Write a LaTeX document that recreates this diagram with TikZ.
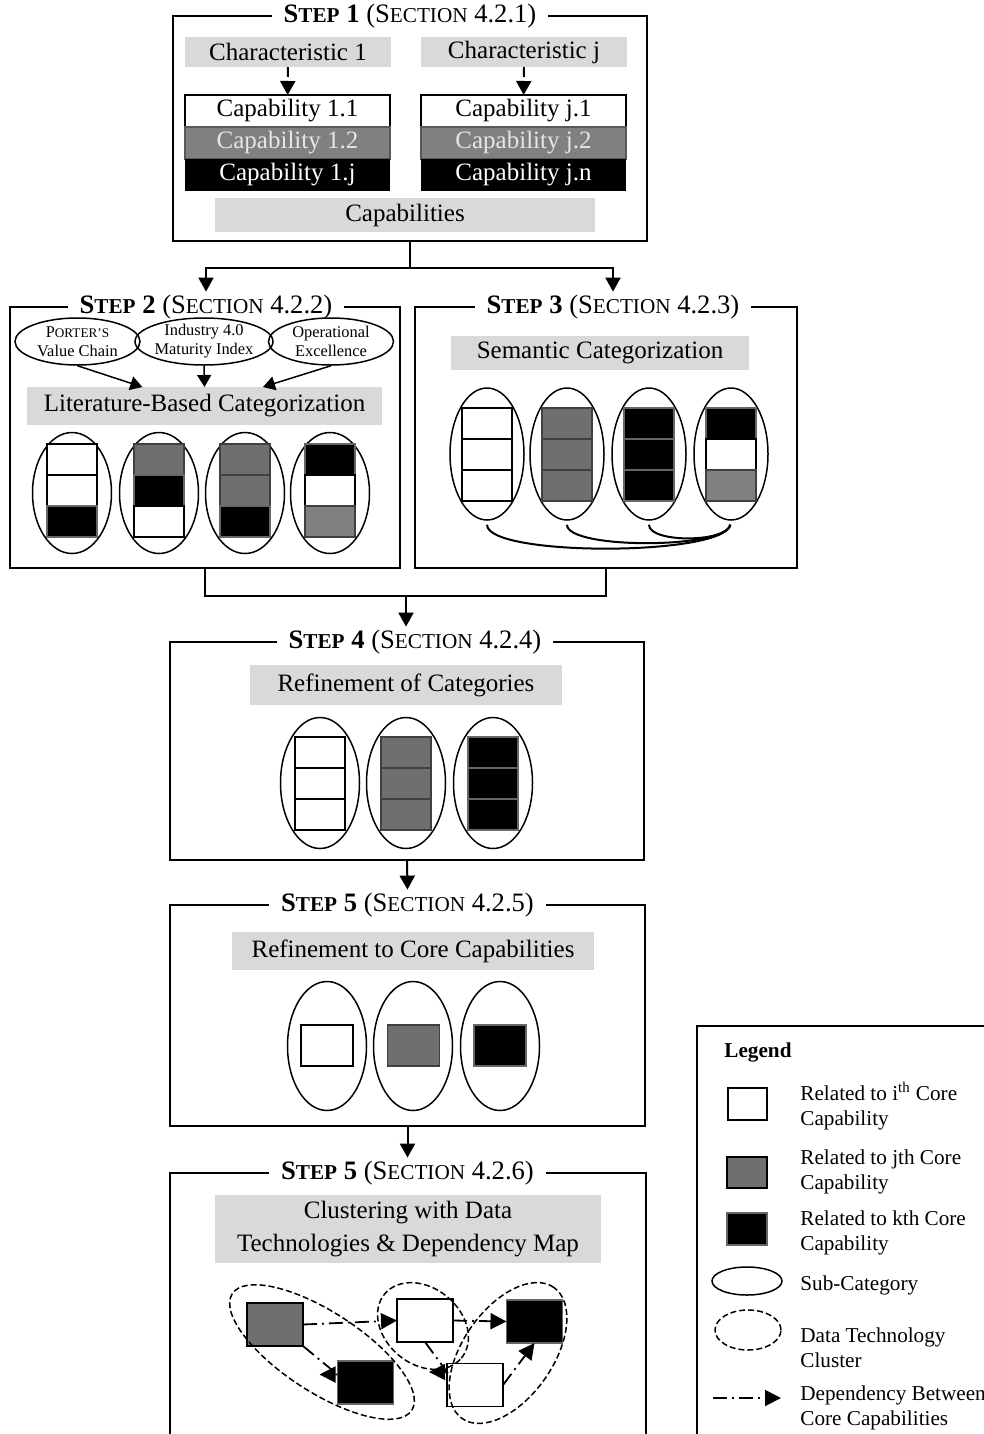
\documentclass[tikz,border=0pt]{standalone}
\usepackage{fontspec}
\setmainfont{Liberation Serif}
\usetikzlibrary{arrows.meta,shapes.geometric}

\definecolor{lgray}{HTML}{D9D9D9}
\definecolor{mgray}{HTML}{6F6F6F}
\definecolor{pgray}{HTML}{808080}
\definecolor{tgray}{HTML}{E6E6E6}

\newcommand{\stephead}[2]{\textbf{S{\fontsize{10.6}{12}\selectfont TEP} #1} (S{\fontsize{10.6}{12}\selectfont ECTION} #2)}

\begin{document}
\begin{tikzpicture}[
    x=0.5pt, y=-0.5pt,
    blk/.style n args={3}{
        fill=#1,
        minimum width=#2*0.5pt,
        minimum height=#3*0.5pt,
        inner sep=0pt,
        outer sep=0pt
    },
    stepbox/.style={draw, line width=1pt},
    steptitle/.style={fill=white, inner xsep=6pt, inner ysep=0pt, minimum height=15pt,
        font=\fontsize{13.3}{16}\selectfont},
    capw/.style={blk={white}{205}{32}, draw, line width=0.75pt},
    capg/.style={blk={pgray}{205}{32}, draw=black!65, line width=0.75pt, text=tgray},
    capk/.style={blk={black}{205}{32}, text=white},
    cw/.style={blk={white}{50}{31}, draw=black, line width=0.75pt},
    cg/.style={blk={mgray}{50}{31}, draw=black!75, line width=0.75pt},
    cp/.style={blk={pgray}{50}{31}, draw=black!75, line width=0.75pt},
    ck/.style={blk={black}{50}{31}, draw=black!60, line width=0.75pt},
    core/.style n args={2}{blk={#1}{56}{43}, draw=#2, line width=0.75pt},
    subcat/.style n args={2}{draw, ellipse, line width=0.75pt, inner sep=0pt,
        minimum width=#1*0.5pt, minimum height=#2*0.5pt},
    cluster/.style n args={2}{draw, ellipse, line width=0.75pt, inner sep=0pt,
        dash pattern=on 3pt off 1.5pt, minimum width=#1*0.5pt, minimum height=#2*0.5pt},
    arr/.style={line width=1pt, -{Triangle[width=7.5pt,length=7pt]}},
    thinarr/.style={line width=0.75pt, -{Triangle[width=7pt,length=6pt]}},
    dep/.style={line width=0.9pt, dash pattern=on 7pt off 2.5pt on 1pt off 2.5pt,
        -{Triangle[width=8pt,length=8pt]}},
    small/.style={font=\fontsize{8.2}{9.5}\selectfont, align=center},
    lgtxt/.style={anchor=west, align=left, inner sep=0pt, font=\fontsize{10.6}{12.5}\selectfont},
    every node/.style={font=\fontsize{12.5}{15}\selectfont}
]
\path[use as bounding box] (0,0) rectangle (984,1434);
\clip (0,0) rectangle (984,1434);

% one column of three sub-category cells: name, x, y of top cell, styles
\def\catstack#1#2#3#4#5#6{%
    \node[#4] (#1a) at (#2,#3) {};
    \node[#5] (#1b) at (#2,#3+31) {};
    \node[#6] (#1c) at (#2,#3+62) {};
}

% ---- step frames ----
\node[stepbox, blk={none}{474}{225}] (s1) at (410,128.5) {};
\node[stepbox, blk={none}{390}{261}] (s2) at (205,437.5) {};
\node[stepbox, blk={none}{382}{261}] (s3) at (606,437.5) {};
\node[stepbox, blk={none}{474}{218}] (s4) at (407,751) {};
\node[stepbox, blk={none}{475}{221}] (s5) at (407.5,1015.5) {};
\node[stepbox, blk={none}{476}{314}] (s6) at (408,1330) {};
\node[stepbox, blk={none}{326}{468}] (lg) at (860,1260) {};

% ---- frame titles ----
\node[steptitle] (t1) at (410,16) {\stephead{1}{4.2.1}};
\node[steptitle] (t2) at (206,307) {\stephead{2}{4.2.2}};
\node[steptitle] (t3) at (613,307) {\stephead{3}{4.2.3}};
\node[steptitle] (t4) at (415,642) {\stephead{4}{4.2.4}};
\node[steptitle] (t5) at (407.5,905) {\stephead{5}{4.2.5}};
\node[steptitle] (t6) at (407.5,1173) {\stephead{5}{4.2.6}};

% ---- step 1: characteristics and capabilities ----
\node[blk={lgray}{206}{30}] (ch1) at (288,52) {Characteristic 1};
\node[blk={lgray}{206}{30}] (chj) at (524,52) {Characteristic j};

\node[capw] (c11) at (287.5,111) {Capability 1.1};
\node[capg] (c12) at (287.5,143) {Capability 1.2};
\node[capk] (c1j) at (287.5,175) {Capability 1.j};
\node[capw] (cj1) at (523.5,111) {Capability j.1};
\node[capg] (cj2) at (523.5,143) {Capability j.2};
\node[capk] (cjn) at (523.5,175) {Capability j.n};

\draw[arr, dash pattern=on 5pt off 2pt] (ch1) -- (c11);
\draw[arr, dash pattern=on 5pt off 2pt] (chj) -- (cj1);

\node[blk={lgray}{380}{34}] (caps) at (405,215) {Capabilities};

% ---- step 2: literature-based ----
\node[subcat={125}{47}] (por) at (77.5,341.5) {};
\node[subcat={138}{47}] (ind) at (204,341.5) {};
\node[subcat={125}{47}] (ope) at (331,341.5) {};
\node[small] at (por.center) {P{\fontsize{6.6}{9}\selectfont ORTER'S}\\Value Chain};
\node[small] at (ind.center) {Industry 4.0\\Maturity Index};
\node[small] at (ope.center) {Operational\\Excellence};

\node[blk={lgray}{355}{38}] (lit) at (204.5,406) {Literature-Based Categorization};
\draw[thinarr] (por.south) -- (lit.163);
\draw[thinarr] (ind.south) -- (lit.north);
\draw[thinarr] (ope.south) -- (lit.18);

\node[subcat={79}{121}] (e21) at (72,493) {};
\node[subcat={79}{121}] (e22) at (159,493) {};
\node[subcat={79}{121}] (e23) at (245,493) {};
\node[subcat={79}{121}] (e24) at (330,493) {};
\catstack{q1}{72}{459.5}{cw}{cw}{ck}
\catstack{q2}{159}{459.5}{cg}{ck}{cw}
\catstack{q3}{245}{459.5}{cg}{cg}{ck}
\catstack{q4}{330}{459.5}{ck}{cw}{cp}

% ---- step 3: semantic ----
\node[blk={lgray}{298}{34}] (sem) at (600,353) {Semantic Categorization};

\node[subcat={74}{132}] (e31) at (487,454) {};
\node[subcat={74}{132}] (e32) at (567,454) {};
\node[subcat={74}{132}] (e33) at (649,454) {};
\node[subcat={74}{132}] (e34) at (731,454) {};
\catstack{r1}{487}{423.5}{cw}{cw}{cw}
\catstack{r2}{567}{423.5}{cg}{cg}{cg}
\catstack{r3}{649}{423.5}{ck}{ck}{ck}
\catstack{r4}{731}{423.5}{ck}{cw}{cp}

\draw[line width=1pt, shorten <=2pt, shorten >=2pt]
    (e31.south) to[out=-90, in=-100, looseness=0.38] (e34.south);
\draw[line width=1pt, shorten <=2pt, shorten >=2pt]
    (e32.south) to[out=-90, in=-100, looseness=0.45] (e34.south);
\draw[line width=1pt, shorten <=2pt, shorten >=2pt]
    (e33.south) to[out=-90, in=-100, looseness=0.7] (e34.south);

% ---- step 4: refinement ----
\node[blk={lgray}{312}{40}] (refc) at (406,685) {Refinement of Categories};
\node[subcat={79}{131}] (e41) at (320,783) {};
\node[subcat={79}{131}] (e42) at (406,783) {};
\node[subcat={79}{131}] (e43) at (493,783) {};
\catstack{u1}{320}{752.5}{cw}{cw}{cw}
\catstack{u2}{406}{752.5}{cg}{cg}{cg}
\catstack{u3}{493}{752.5}{ck}{ck}{ck}

% ---- step 5: core capabilities ----
\node[blk={lgray}{362}{38}] (core) at (413,951) {Refinement to Core Capabilities};
\node[subcat={79}{129}] (e51) at (327,1046) {};
\node[subcat={79}{129}] (e52) at (413,1046) {};
\node[subcat={79}{129}] (e53) at (500,1046) {};
\node[core={white}{black}, minimum width=26pt, minimum height=20.5pt] (k1) at (327,1045.5) {};
\node[core={mgray}{black!75}, minimum width=26pt, minimum height=20.5pt] (k2) at (413.5,1045.5) {};
\node[core={black}{black!60}, minimum width=26pt, minimum height=20.5pt] (k3) at (500,1045.5) {};

% ---- step 5 (4.2.6): clusters and dependencies ----
\node[blk={lgray}{386}{68}, align=center, font=\fontsize{12.5}{16.5}\selectfont] (clus)
    at (408,1229) {Clustering with Data\\Technologies \& Dependency Map};

\node[core={mgray}{black}] (A) at (275,1324.5) {};
\node[core={black}{black!60}] (B) at (365.5,1382.5) {};
\node[core={white}{black}] (C) at (425,1320.5) {};
\node[core={black}{black!60}] (D) at (534.5,1321.5) {};
\node[core={white}{black}] (E) at (475,1385) {};

\node[cluster={214}{80}, rotate=-33] (cl1) at (322,1352) {};
\node[cluster={100}{76}, rotate=-40] (cl2) at (423,1326) {};
\node[cluster={160}{90}, rotate=55] (cl3) at (508,1353) {};

\draw[dep] (A.east) -- (C.west);
\draw[dep] (A.south east) -- ([yshift=4pt]B.west) -- ++(-9pt,0);
\draw[dep] (C.south) -- ([yshift=6.5pt]E.west) -- ++(-9pt,0);
\draw[dep] (C.east) -- (D.west);
\draw[dep] (E.east) -- (D.south);

% ---- connectors between steps ----
\coordinate (j1) at (410,268);
\draw[line width=1pt] (s1.south) -- (j1);
\draw[arr] (j1) -| (t2.north);
\draw[arr] (j1) -| (t3.north);

\coordinate (j2) at (406,596);
\draw[line width=1pt] (s2.south) |- (j2) -| (s3.south);
\draw[arr] (j2) -- (j2 |- t4.north);
\draw[arr] (s4.south) -- (t5.north);
\draw[arr] (s5.south) -- (t6.north);

% ---- legend ----
\node[anchor=west, inner sep=0pt, font=\bfseries\fontsize{10.6}{12.5}\selectfont] (lgt)
    at (724,1052) {Legend};

\node[blk={white}{39}{32}, draw, line width=0.75pt] (sw1) at (747.5,1104) {};
\node[blk={mgray}{40}{31}, draw, line width=0.75pt] (sw2) at (747,1172.5) {};
\node[blk={black}{40}{32}, draw=black!60, line width=0.75pt] (sw3) at (747,1229) {};
\node[subcat={70}{28}] (sw4) at (747,1281) {};
\node[cluster={66}{40}] (sw5) at (748,1330) {};
\coordinate (la) at (713,1398);
\coordinate (lb) at (781,1398);
\draw[dep] (la) -- (lb);

\node[lgtxt] (l1) at (800,1106) {Related to i\textsuperscript{th} Core\\Capability};
\node[lgtxt] (l2) at (800,1172) {Related to jth Core\\Capability};
\node[lgtxt] (l3) at (800,1233) {Related to kth Core\\Capability};
\node[lgtxt] (l4) at (800,1285) {Sub-Category};
\node[lgtxt] (l5) at (800,1348) {Data Technology\\Cluster};
\node[lgtxt] (l6) at (800,1408) {Dependency Between\\Core Capabilities};

\end{tikzpicture}
\end{document}
